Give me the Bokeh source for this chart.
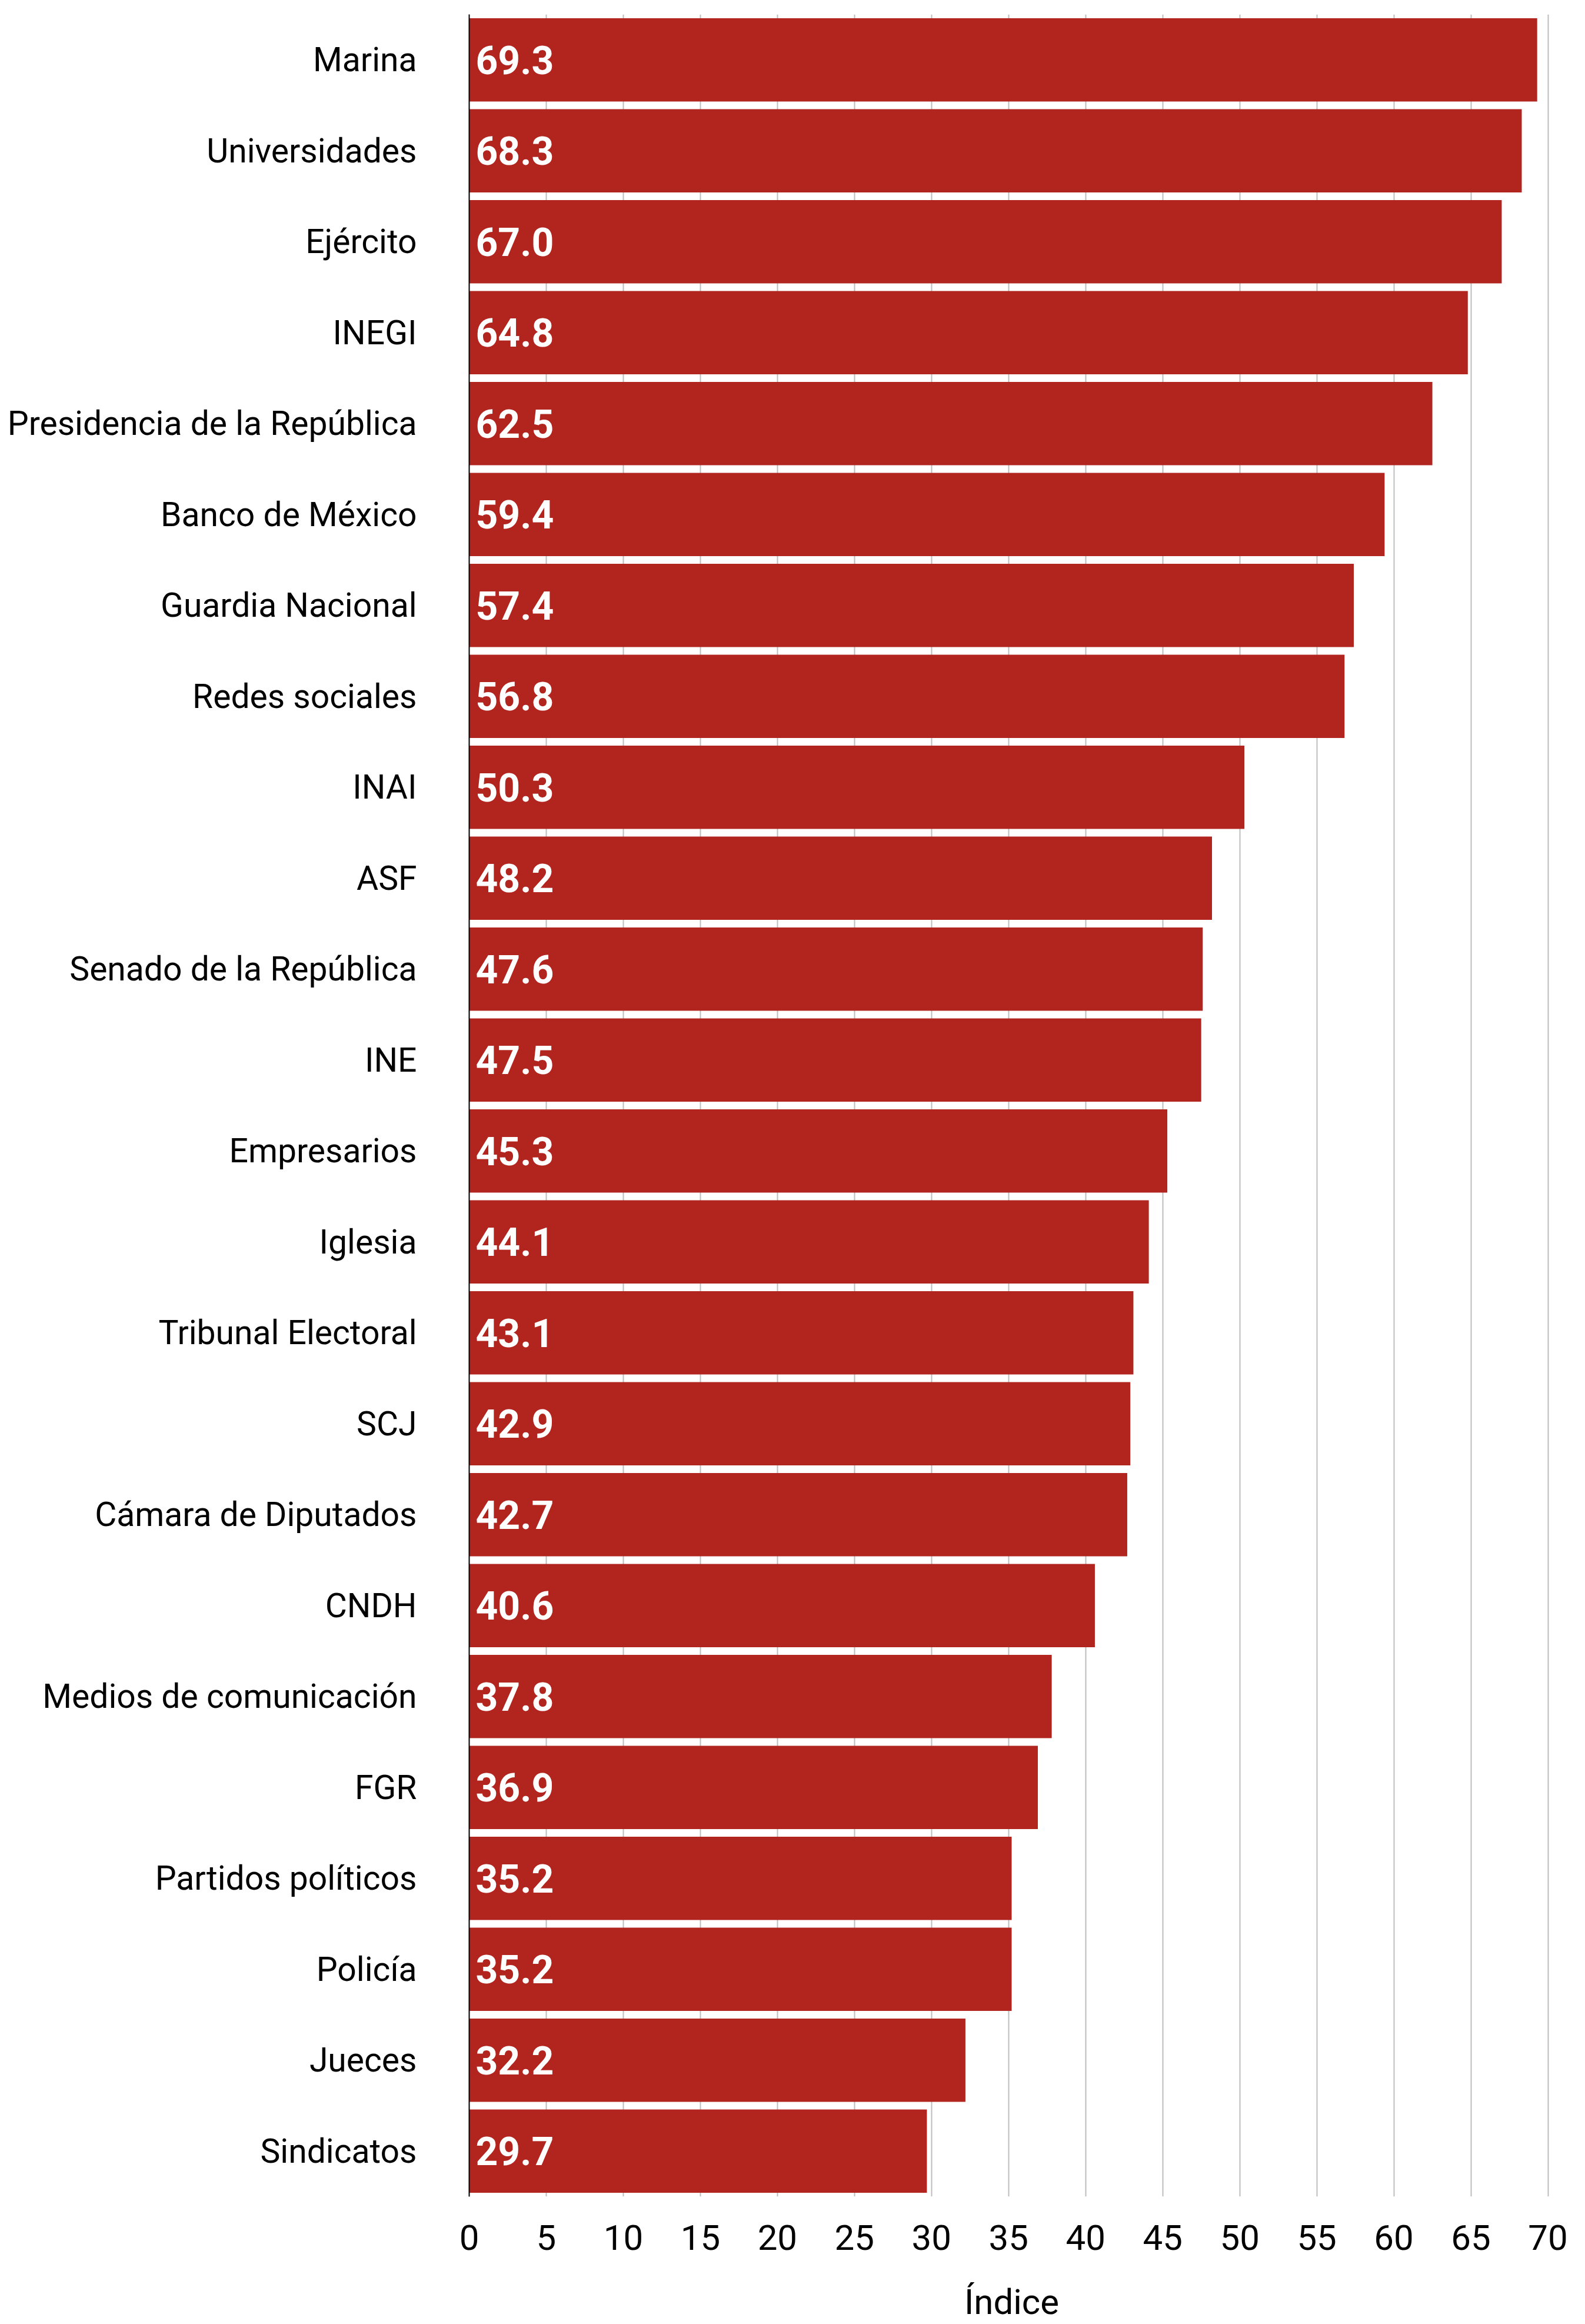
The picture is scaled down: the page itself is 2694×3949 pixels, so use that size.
from bokeh.plotting import figure
from bokeh.models import FactorRange, Range1d, ColumnDataSource, FixedTicker
from bokeh.core.properties import value
from bokeh.embed import file_html
from bokeh.resources import INLINE

categories = [
    "Marina", "Universidades", "Ejército", "INEGI", "Presidencia de la República",
    "Banco de México", "Guardia Nacional", "Redes sociales", "INAI", "ASF",
    "Senado de la República", "INE", "Empresarios", "Iglesia", "Tribunal Electoral",
    "SCJ", "Cámara de Diputados", "CNDH", "Medios de comunicación", "FGR",
    "Partidos políticos", "Policía", "Jueces", "Sindicatos",
]
values = [
    69.3, 68.3, 67.0, 64.8, 62.5,
    59.4, 57.4, 56.8, 50.3, 48.2,
    47.6, 47.5, 45.3, 44.1, 43.1,
    42.9, 42.7, 40.6, 37.8, 36.9,
    35.2, 35.2, 32.2, 29.7,
]
x_ticks = [0, 5, 10, 15, 20, 25, 30, 35, 40, 45, 50, 55, 60, 65, 70]
x_title = "Índice"

FONT = "Roboto"
BAR = "#B2241E"

src = ColumnDataSource(dict(
    cat=categories,
    val=values,
    lab=[f"{v:.1f}" for v in values],
))

p = figure(
    width=2694, height=3949,
    y_range=FactorRange(factors=list(reversed(categories)), range_padding=0),
    x_range=Range1d(0, 70.4),
    output_backend="svg", toolbar_location=None,
    min_border_left=797, min_border_right=53, min_border_top=24, min_border_bottom=215,
)
p.outline_line_color = None
p.background_fill_color = "white"
p.border_fill_color = "white"

p.hbar(y="cat", right="val", left=0, height=0.915, source=src,
       fill_color=BAR, line_color=None)

p.text(x=0, y="cat", text="lab", source=src, x_offset=11,
       text_color="white", text_font=value(FONT), text_font_style="bold",
       text_font_size="66px", text_align="left", text_baseline="middle")

# grid
p.ygrid.grid_line_color = None
p.xgrid.grid_line_color = "#BDBDBD"
p.xgrid.grid_line_width = 2
p.xgrid.level = "underlay"

# x axis
p.xaxis.ticker = FixedTicker(ticks=x_ticks)
p.xaxis.axis_line_color = None
p.xaxis.major_tick_line_color = None
p.xaxis.minor_tick_line_color = None
p.xaxis.major_tick_in = 0
p.xaxis.major_tick_out = 0
p.xaxis.major_label_standoff = 48
p.xaxis.major_label_text_font = FONT
p.xaxis.major_label_text_font_size = "60px"
p.xaxis.major_label_text_color = "black"
p.xaxis.axis_label = x_title
p.xaxis.axis_label_text_font = FONT
p.xaxis.axis_label_text_font_size = "60px"
p.xaxis.axis_label_text_font_style = "normal"
p.xaxis.axis_label_text_color = "black"
p.xaxis.axis_label_standoff = 50

# y axis
p.yaxis.axis_line_color = "black"
p.yaxis.axis_line_width = 2
p.yaxis.major_tick_line_color = None
p.yaxis.minor_tick_line_color = None
p.yaxis.major_tick_in = 0
p.yaxis.major_tick_out = 0
p.yaxis.major_label_standoff = 89
p.yaxis.major_label_text_font = FONT
p.yaxis.major_label_text_font_size = "57px"
p.yaxis.major_label_text_color = "black"

open("out.html", "w").write(file_html(p, INLINE))
